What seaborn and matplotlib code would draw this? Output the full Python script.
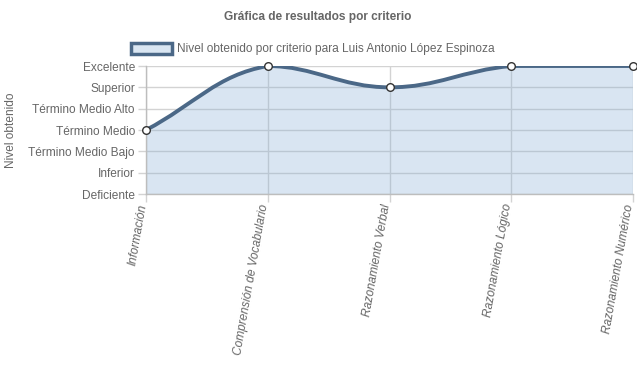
import numpy as np
import pandas as pd
import matplotlib
matplotlib.use("Agg")
import matplotlib.pyplot as plt
import matplotlib.transforms as mtransforms
import seaborn as sns
from matplotlib.path import Path
from matplotlib.patches import PathPatch, Patch

title = "Gráfica de resultados por criterio"
series_name = "Nivel obtenido por criterio para Luis Antonio López Espinoza"
y_axis_title = "Nivel obtenido"
levels = ["Deficiente", "Inferior", "Término Medio Bajo", "Término Medio",
          "Término Medio Alto", "Superior", "Excelente"]
categories = ["Información", "Comprensión de Vocabulario", "Razonamiento Verbal",
              "Razonamiento Lógico", "Razonamiento Numérico"]
values = [3, 6, 5, 6, 6]

line_color = "#4b6887"
fill_color = (132/255, 172/255, 212/255, 0.30)
text_color = "#666666"
grid_color = "#d3d3d3"
FS = 8.6

sns.set_theme(style="white")
plt.rcParams["font.family"] = ["Liberation Sans", "DejaVu Sans"]

fig = plt.figure(figsize=(6.37, 3.89), dpi=100)
ax = fig.add_axes([146/637, 1-194/389, (633-146)/637, (194-66)/389])

df = pd.DataFrame({"x": np.arange(len(categories)), "y": values, "cat": categories})

# Chart.js-like bezier smoothing (tension 0.4), computed in pixel space
sx, sy = (633-146)/4, (194-66)/6
xs = df["x"].to_numpy(float); ys = df["y"].to_numpy(float)
n = len(xs)
cp_prev = []; cp_next = []
for i in range(n):
    p = (xs[max(i-1, 0)], ys[max(i-1, 0)])
    c = (xs[i], ys[i])
    q = (xs[min(i+1, n-1)], ys[min(i+1, n-1)])
    d01 = np.hypot((c[0]-p[0])*sx, (c[1]-p[1])*sy)
    d12 = np.hypot((q[0]-c[0])*sx, (q[1]-c[1])*sy)
    tot = d01 + d12
    s01 = d01/tot if tot else 0; s12 = d12/tot if tot else 0
    fa, fb = 0.4*s01, 0.4*s12
    pc = [c[0]-fa*(q[0]-p[0]), c[1]-fa*(q[1]-p[1])]
    nc = [c[0]+fb*(q[0]-p[0]), c[1]+fb*(q[1]-p[1])]
    pc[1] = min(max(pc[1], 0), 6); nc[1] = min(max(nc[1], 0), 6)
    pc[0] = min(max(pc[0], 0), n-1); nc[0] = min(max(nc[0], 0), n-1)
    cp_prev.append(pc); cp_next.append(nc)

verts = [(xs[0], ys[0])]; codes = [Path.MOVETO]
for i in range(n-1):
    verts += [tuple(cp_next[i]), tuple(cp_prev[i+1]), (xs[i+1], ys[i+1])]
    codes += [Path.CURVE4]*3
line_path = Path(verts, codes)
fill_path = Path(verts + [(xs[-1], 0), (xs[0], 0), (xs[0], ys[0])],
                 codes + [Path.LINETO, Path.LINETO, Path.CLOSEPOLY])

for i in range(len(levels)):
    ax.axhline(i, color=grid_color, lw=1, zorder=0)
for i in range(len(categories)):
    ax.axvline(i, color=grid_color, lw=1, zorder=0)

ax.add_patch(PathPatch(fill_path, facecolor=fill_color, edgecolor="none", zorder=1))
ax.add_patch(PathPatch(line_path, facecolor="none", edgecolor=line_color, lw=2.8, zorder=2))
sns.scatterplot(data=df, x="x", y="y", ax=ax, s=30, color="white",
                edgecolor="#333333", linewidth=1.0, zorder=3, legend=False,
                clip_on=False)

ax.set_xlim(0, n-1)
ax.set_ylim(0, 6)
ax.set_yticks(range(len(levels)))
ax.set_yticklabels(levels, color=text_color, fontsize=FS)
ax.set_xticks(range(n))
ax.set_xticklabels([""] * n)
shift = mtransforms.ScaledTranslation(-3/100, -10/100, fig.dpi_scale_trans)
for i, cat in enumerate(categories):
    ax.text(i, 0, cat, transform=ax.get_xaxis_transform() + shift,
            color=text_color, fontsize=FS, style="italic", rotation=80,
            ha="right", va="center", rotation_mode="anchor", clip_on=False)
ax.tick_params(axis="both", length=6, width=1, color=grid_color, pad=2)
ax.tick_params(axis="y", left=True)
ax.tick_params(axis="x", bottom=True)
ax.set_xlabel("")
ax.set_ylabel(y_axis_title, color=text_color, fontsize=FS)
ax.yaxis.set_label_coords(-(146-17)/487, 0.5)
for s in ["top", "right"]:
    ax.spines[s].set_visible(False)
for s in ["left", "bottom"]:
    ax.spines[s].set_color("#bdbdbd")
    ax.spines[s].set_linewidth(1)

fig.text(318/637, 1-17/389, title, ha="center", va="center", fontsize=FS,
         fontweight="bold", color=text_color)
handle = Patch(facecolor="#dae6f2", edgecolor=line_color, linewidth=2.5)
fig.legend([handle], [series_name], loc="center", bbox_to_anchor=(313/637, 1-49/389),
           frameon=False, fontsize=FS, labelcolor=text_color,
           handlelength=3.4, handleheight=1.15, handletextpad=0.45, borderpad=0)

fig.savefig("out.png", dpi=100)
